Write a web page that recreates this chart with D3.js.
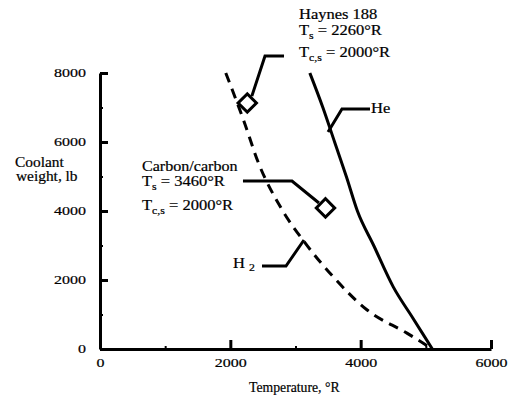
<!DOCTYPE html>
<html>
<head>
<meta charset="utf-8">
<script src="https://cdn.jsdelivr.net/npm/d3@7/dist/d3.min.js"></script>
<style>
  html, body { margin: 0; padding: 0; background: #fff; }
  svg { display: block; }
  text { font-family: "Liberation Serif", "Times New Roman", serif; fill: #000; stroke: #000; stroke-width: 0.2px; }
</style>
</head>
<body>
<svg id="chart" width="508" height="398"></svg>
<script>
// Coolant weight versus surface temperature for two coolants
const xMajorTicks = [0, 2000, 4000, 6000];
const xMinorTicks = [1000, 3000, 5000];
const yMajorTicks = [0, 2000, 4000, 6000, 8000];
const yMinorTicks = [1000, 3000, 5000, 7000];

// Helium (solid)
const heTemp   = [3220, 3420, 3600, 3780, 3950, 4200, 4500, 4800, 5100];
const heWeight = [8000, 7000, 6000, 5000, 4000, 3000, 1800, 900, 0];

// Hydrogen (dashed)
const h2Temp   = [1930, 2200, 2430, 2780, 3150, 3580, 4100, 4710, 5100];
const h2Weight = [8000, 6650, 5400, 4080, 3070, 2090, 1130, 460, 0];

// Design points: Haynes 188 and carbon/carbon
const pointTemp   = [2260, 3460];
const pointWeight = [7130, 4090];

// Leader lines (temperature, weight) for the callouts
const leaderHaynes = [[2824, 8490], [2532, 8490], [2330, 7330]];
const leaderCarbon = [[2194, 4870], [2946, 4870], [3360, 4232]];
const leaderHe     = [[3499, 6290], [3713, 6957], [4143, 6957]];
const leaderH2     = [[2486, 2406], [2854, 2406], [3130, 3159]];

const svg = d3.select("#chart");
const x = d3.scaleLinear().domain([0, 6000]).range([100, 491]);
const y = d3.scaleLinear().domain([0, 8000]).range([349, 73]);
const SERIF = '"Liberation Serif", "Times New Roman", serif';

// text helper: glyphs in this figure are set slightly wide
function label(sel, px, py, size, sx, anchor) {
  return sel.append("text")
    .attr("transform", `translate(${px},${py}) scale(${sx},1)`)
    .style("font-family", SERIF)
    .style("font-size", size + "px")
    .attr("text-anchor", anchor || "start");
}

// Y axis
const yAxis = svg.append("g").attr("transform", `translate(${x(0)},0)`)
  .call(d3.axisLeft(y).tickValues(yMajorTicks).tickSize(-8).tickSizeOuter(0).tickPadding(14).tickFormat(d3.format("d")));
yAxis.attr("font-family", null).attr("font-size", null);
yAxis.select(".domain").attr("stroke-width", 3).attr("stroke", "#000");
yAxis.selectAll(".tick line").attr("stroke-width", 3);
yAxis.selectAll(".tick text").each(function() {
  const t = d3.select(this);
  const tx = +t.attr("x");
  t.attr("x", null).attr("dy", null)
   .style("font-family", SERIF).style("font-size", "13px")
   .attr("transform", `translate(${tx},3) scale(1.23,1)`);
});

svg.append("g").attr("transform", `translate(${x(0)},0)`)
  .call(d3.axisLeft(y).tickValues(yMinorTicks).tickSize(-3).tickFormat(""))
  .call(g => g.select(".domain").remove())
  .call(g => g.selectAll(".tick line").attr("stroke-width", 2));

// X axis
const xAxis = svg.append("g").attr("transform", `translate(0,${y(0)})`)
  .call(d3.axisBottom(x).tickValues(xMajorTicks).tickSize(-9).tickSizeOuter(0).tickPadding(12).tickFormat(d3.format("d")));
xAxis.attr("font-family", null).attr("font-size", null);
xAxis.select(".domain").attr("stroke-width", 3).attr("stroke", "#000");
xAxis.selectAll(".tick line").attr("stroke-width", 3);
xAxis.selectAll(".tick text").each(function() {
  d3.select(this).attr("y", null).attr("dy", null)
   .style("font-family", SERIF).style("font-size", "13px")
   .attr("transform", `translate(0,18) scale(1.23,1)`);
});

svg.append("g").attr("transform", `translate(0,${y(0)})`)
  .call(d3.axisBottom(x).tickValues(xMinorTicks).tickSize(-3).tickFormat(""))
  .call(g => g.select(".domain").remove())
  .call(g => g.selectAll(".tick line").attr("stroke-width", 2));

// Axis titles
label(svg, 15, 167, 14, 1.1).text("Coolant");
label(svg, 16, 181, 14, 1.1).text("weight, lb");
label(svg, 249, 392, 14, 0.98).text("Temperature, °R");

// Curves
const line = d3.line().x(d => x(d[0])).y(d => y(d[1])).curve(d3.curveMonotoneX);
svg.append("path")
  .datum(heTemp.map((t, i) => [t, heWeight[i]]))
  .attr("d", line).attr("fill", "none").attr("stroke", "#000").attr("stroke-width", 3);
svg.append("path")
  .datum(h2Temp.map((t, i) => [t, h2Weight[i]]))
  .attr("d", line).attr("fill", "none").attr("stroke", "#000").attr("stroke-width", 3)
  .attr("stroke-dasharray", "10,7");

// Leaders
const leader = d3.line().x(d => x(d[0])).y(d => y(d[1]));
[leaderHaynes, leaderCarbon, leaderHe, leaderH2].forEach(pts => {
  svg.append("path").attr("d", leader(pts)).attr("fill", "none")
    .attr("stroke", "#000").attr("stroke-width", 3).attr("stroke-linejoin", "miter");
});

// Design-point diamonds
svg.selectAll(".pt").data(pointTemp).join("rect")
  .attr("class", "pt")
  .attr("x", -6.5).attr("y", -6.5).attr("width", 13).attr("height", 13)
  .attr("transform", (d, i) => `translate(${x(d)},${y(pointWeight[i])}) rotate(45)`)
  .attr("fill", "#fff").attr("stroke", "#000").attr("stroke-width", 3);

// Callout text
function tLine(px, py, main, sub, rest) {
  const t = label(svg, px, py, 14, 1.18);
  t.append("tspan").text(main);
  t.append("tspan").style("font-size", "10px").attr("dy", 4).text(sub);
  t.append("tspan").attr("dy", -4).text(rest);
}
label(svg, 299, 19, 14, 1.18).text("Haynes 188");
tLine(299, 35, "T", "s", " = 2260°R");
tLine(299, 57, "T", "c,s", " = 2000°R");

label(svg, 142, 171, 14, 1.15).text("Carbon/carbon");
tLine(142, 186, "T", "s", " = 3460°R");
tLine(142, 210, "T", "c,s", " = 2000°R");

label(svg, 371, 113, 14, 1.18).text("He");
const h2 = label(svg, 233, 268, 14, 1.18);
h2.append("tspan").text("H ");
h2.append("tspan").style("font-size", "10px").attr("dy", 3).text("2");
</script>
</body>
</html>
